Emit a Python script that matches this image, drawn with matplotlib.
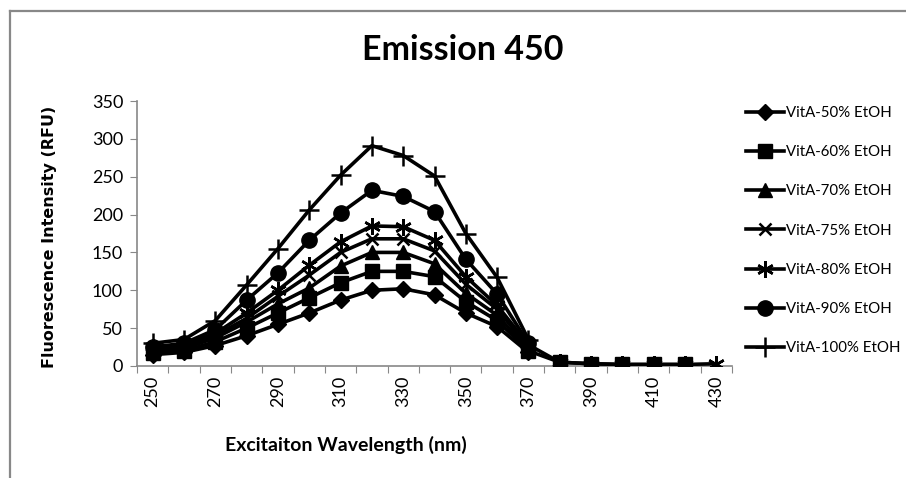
import matplotlib
matplotlib.use("Agg")
import matplotlib.pyplot as plt
from matplotlib.ticker import FixedLocator, NullFormatter
import numpy as np

nan = np.nan

longueurs_onde = [250, 260, 270, 280, 290, 300, 310, 320, 330, 340,
                  350, 360, 370, 380, 390, 400, 410, 420, 430]

vita_50 = [15, 18, 27, 40, 55, 70, 87, 100, 102, 94, 70, 52, 18,
           nan, nan, nan, nan, nan, nan]
vita_60 = [17, 20, 32, 50, 70, 90, 110, 125, 125, 118, 85, 60, 20,
           5, 3, 2, 2, 2, nan]
vita_70 = [20, 23, 37, 58, 82, 103, 132, 150, 150, 135, 96, 67, 22,
           nan, nan, nan, nan, nan, nan]
vita_75 = [22, 26, 40, 63, 92, 120, 150, 168, 168, 152, 108, 75, 25,
           nan, nan, nan, nan, nan, nan]
vita_80 = [25, 28, 43, 70, 100, 133, 164, 185, 184, 166, 118, 80, 28,
           5, 3, 2, 2, 2, 3]
vita_90 = [25, 30, 48, 87, 123, 166, 202, 232, 224, 204, 141, 95, 30,
           nan, nan, nan, nan, nan, nan]
vita_100 = [30, 35, 60, 107, 155, 206, 252, 291, 278, 251, 175, 117, 35,
            nan, nan, nan, nan, nan, nan]

series = [
    ("VitA-50% EtOH", vita_50, "D", 8),
    ("VitA-60% EtOH", vita_60, "s", 10),
    ("VitA-70% EtOH", vita_70, "^", 10),
    ("VitA-75% EtOH", vita_75, "x", 9),
    ("VitA-80% EtOH", vita_80, (6, 2, 0), 12),
    ("VitA-90% EtOH", vita_90, "o", 11),
    ("VitA-100% EtOH", vita_100, "+", 14),
]

plt.rcParams["font.family"] = ["Lato", "DejaVu Sans"]

fig = plt.figure(figsize=(9.06, 4.78), dpi=100)
ax = fig.add_axes([137 / 906, 112 / 478, 595 / 906, 265 / 478])

x = np.arange(len(longueurs_onde))
for nom, valeurs, marqueur, taille in series:
    z = 3 if nom == "VitA-80% EtOH" else 4
    fin = marqueur in ("x", "+", (6, 2, 0))
    ax.plot(x, valeurs, color="black", linewidth=2.6, marker=marqueur,
            markersize=taille, markeredgewidth=1.8 if fin else 1,
            markerfacecolor="black", markeredgecolor="black", label=nom, zorder=z)

ax.set_xlim(-0.5, len(longueurs_onde) - 0.5)
ax.set_ylim(0, 350)
ax.set_yticks(range(0, 351, 50))

# graduations entre les categories, etiquettes une sur deux
ax.xaxis.set_major_locator(FixedLocator(np.arange(len(longueurs_onde) + 1) - 0.5))
ax.xaxis.set_major_formatter(NullFormatter())
ax.xaxis.set_minor_locator(FixedLocator(x[::2]))
ax.set_xticklabels([str(v) for v in longueurs_onde[::2]], minor=True,
                   rotation=90, fontsize=13)
ax.tick_params(axis="x", which="major", length=5, color="#888888", direction="out")
ax.tick_params(axis="x", which="minor", length=0, pad=7)
ax.tick_params(axis="y", length=5, color="#888888", labelsize=13, pad=5)

for cote in ["top", "right"]:
    ax.spines[cote].set_visible(False)
for cote in ["left", "bottom"]:
    ax.spines[cote].set_color("#888888")
    ax.spines[cote].set_linewidth(1.2)

fig.text(463 / 906, 1 - 50 / 478, "Emission 450", ha="center", va="center",
         fontsize=24.5, fontweight="bold")
fig.text(346 / 906, 1 - 445 / 478, "Excitaiton Wavelength (nm)", ha="center",
         va="center", fontsize=14, fontweight="bold")
fig.text(50 / 906, 1 - 237 / 478, "Fluorescence Intensity (RFU)", ha="center",
         va="center", rotation=90, fontsize=11.5, fontweight="bold",
         family="DejaVu Sans")

fig.legend(loc="upper left", bbox_to_anchor=(740 / 906, 1 - 100 / 478),
           frameon=False, fontsize=10.8, handlelength=2.5, handletextpad=0.15,
           labelspacing=1.68, borderaxespad=0)

# cadre gris du graphique
fig.add_artist(plt.Line2D([9.5 / 906, 9.5 / 906], [0, 1 - 10.5 / 478],
                          color="#888888", linewidth=1.6))
fig.add_artist(plt.Line2D([9.5 / 906, 1], [1 - 10.5 / 478, 1 - 10.5 / 478],
                          color="#888888", linewidth=1.6))

fig.savefig("out.png", dpi=100)
